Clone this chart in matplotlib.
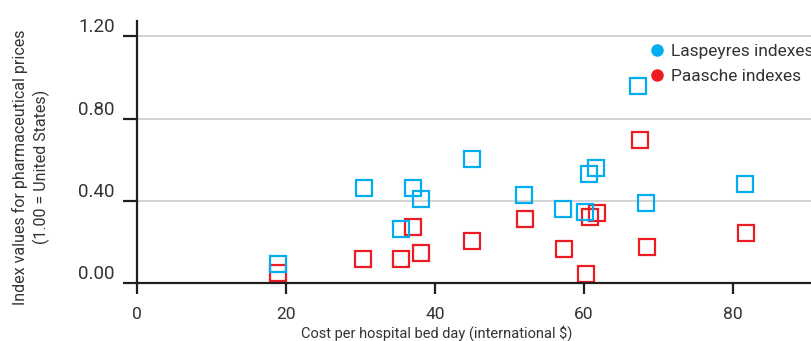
import matplotlib.pyplot as plt
from matplotlib.lines import Line2D

# cost per hospital bed day for each country
cost = [18.9, 30.5, 35.4, 37.1, 38.1, 44.9, 52.0, 57.2, 60.1, 60.7, 61.6, 67.3, 68.3, 81.6]
# index values (1.00 = United States)
laspeyres = [0.095, 0.461, 0.266, 0.461, 0.408, 0.603, 0.429, 0.360, 0.348, 0.531, 0.560, 0.957, 0.389, 0.481]
paasche = [0.050, 0.117, 0.117, 0.274, 0.146, 0.204, 0.312, 0.167, 0.047, 0.322, 0.343, 0.695, 0.176, 0.244]
paasche_x = [18.9, 30.4, 35.4, 37.1, 38.1, 45.0, 52.1, 57.3, 60.2, 60.8, 61.7, 67.5, 68.4, 81.7]

xticks = [0, 20, 40, 60, 80]
yticks = [0.0, 0.4, 0.8, 1.2]
ytick_labels = ['0.00', '0.40', '0.80', '1.20']

BLUE = '#00aeef'
RED = '#ed1c24'
TXT = '#333333'
AX = '#231f20'

plt.rcParams['font.family'] = ['Roboto', 'DejaVu Sans']

fig = plt.figure(figsize=(8.12, 3.41), dpi=100)
W, H = 812, 341
ax = fig.add_axes([137 / W, 57.7 / H, 675 / W, 262.6 / H])
ax.set_xlim(0, 90.6)
ax.set_ylim(0, 1.276)

# gridlines
for y in yticks[1:]:
    ax.axhline(y, color='#c8c8c8', lw=1.1, zorder=0)

# red first, blue on top
ax.plot(paasche_x, paasche, ls='none', marker='s', ms=11.2, mfc='none',
        mec=RED, mew=1.6, zorder=3, clip_on=False)
ax.plot(cost, laspeyres, ls='none', marker='s', ms=11.2, mfc='none',
        mec=BLUE, mew=1.6, zorder=4, clip_on=False)

for s in ['top', 'right']:
    ax.spines[s].set_visible(False)
for s in ['left', 'bottom']:
    ax.spines[s].set_color(AX)
    ax.spines[s].set_linewidth(1.6)
    ax.spines[s].set_zorder(5)

ax.set_xticks(xticks)
ax.set_yticks(yticks)
ax.set_yticklabels(ytick_labels)
ax.tick_params(axis='y', length=10, width=1.6, color=AX, pad=6,
               labelsize=13.5, labelcolor=TXT)
ax.tick_params(axis='x', length=8, width=1.6, color=AX, pad=9,
               labelsize=12.5, labelcolor=TXT)
for lab in ax.get_yticklabels():
    lab.set_verticalalignment('bottom')

ax.set_xlabel('Cost per hospital bed day (international $)', fontsize=10.5,
              color=TXT)
ax.xaxis.set_label_coords(0.444, -0.16)

fig.text(31 / W, 1 - 167 / H,
         'Index values for pharmaceutical prices\n(1.00 = United States)',
         rotation=90, ha='center', va='center', multialignment='center',
         fontsize=11.5, color=TXT, linespacing=1.4)

handles = [Line2D([], [], ls='none', marker='o', ms=8, color=BLUE),
           Line2D([], [], ls='none', marker='o', ms=8, color=RED)]
fig.legend(handles, ['Laspeyres indexes', 'Paasche indexes'],
           loc='upper left', bbox_to_anchor=(650 / W, 1 - 44 / H),
           frameon=False, handlelength=0.8, handletextpad=0.4,
           labelspacing=0.55, borderpad=0, borderaxespad=0,
           fontsize=12.5, labelcolor=TXT)

fig.savefig('out.png', dpi=100)
